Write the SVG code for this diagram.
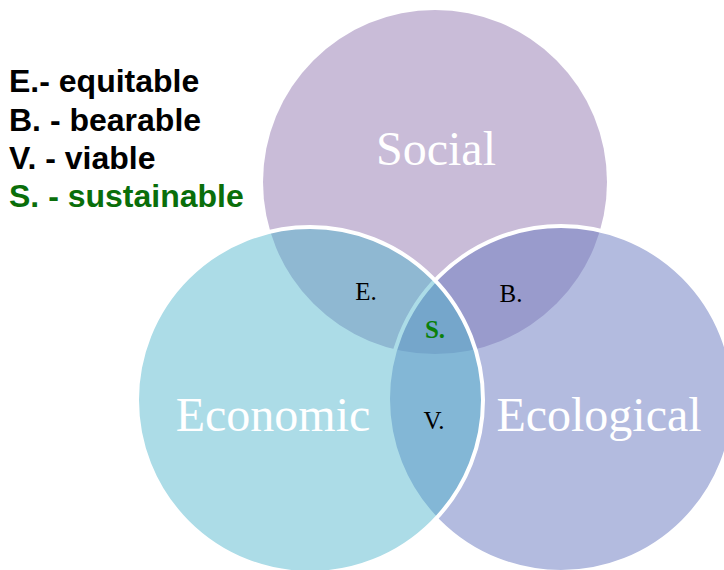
<svg xmlns="http://www.w3.org/2000/svg" width="724" height="570" viewBox="0 0 724 570">
<style>
.legend{font-family:"Liberation Sans",Arial,sans-serif;font-weight:bold;font-size:32px;fill:#000}
.green{fill:#0a6e0a}
.big{font-family:"Liberation Serif","Times New Roman",serif;font-size:48px;fill:#fff;text-anchor:middle}
.small{font-family:"Liberation Serif","Times New Roman",serif;font-size:25px;fill:#000;text-anchor:middle}
.ring{stroke:#fff;stroke-width:4}
</style>
<rect width="724" height="570" fill="#fff"/>
<g id="legend">
<text class="legend" x="9" y="92">E.- equitable</text>
<text class="legend" x="9" y="131">B. - bearable</text>
<text class="legend" x="9" y="169">V. - viable</text>
<text class="legend green" x="9" y="207">S. - sustainable</text>
</g>
<g id="social">
<circle cx="435" cy="182" r="172" fill="#c9bcd8"/>
<text class="big" x="436" y="165">Social</text>
</g>
<g id="ecological">
<circle class="ring" cx="561" cy="399" r="173" fill="#6d7cc1" fill-opacity="0.52"/>
</g>
<g id="economic">
<circle class="ring" cx="310" cy="400" r="173" fill="#4bb3cb" fill-opacity="0.46"/>
</g>
<text class="big" x="273" y="431">Economic</text>
<text class="big" x="599" y="431">Ecological</text>
<g id="equitable"><text class="small" x="366" y="300">E.</text></g>
<g id="bearable"><text class="small" x="511" y="302">B.</text></g>
<g id="viable"><text class="small" x="434" y="429">V.</text></g>
<g id="sustainable"><text class="small" x="435" y="338" style="font-weight:bold;fill:#0a800a">S.</text></g>
</svg>
